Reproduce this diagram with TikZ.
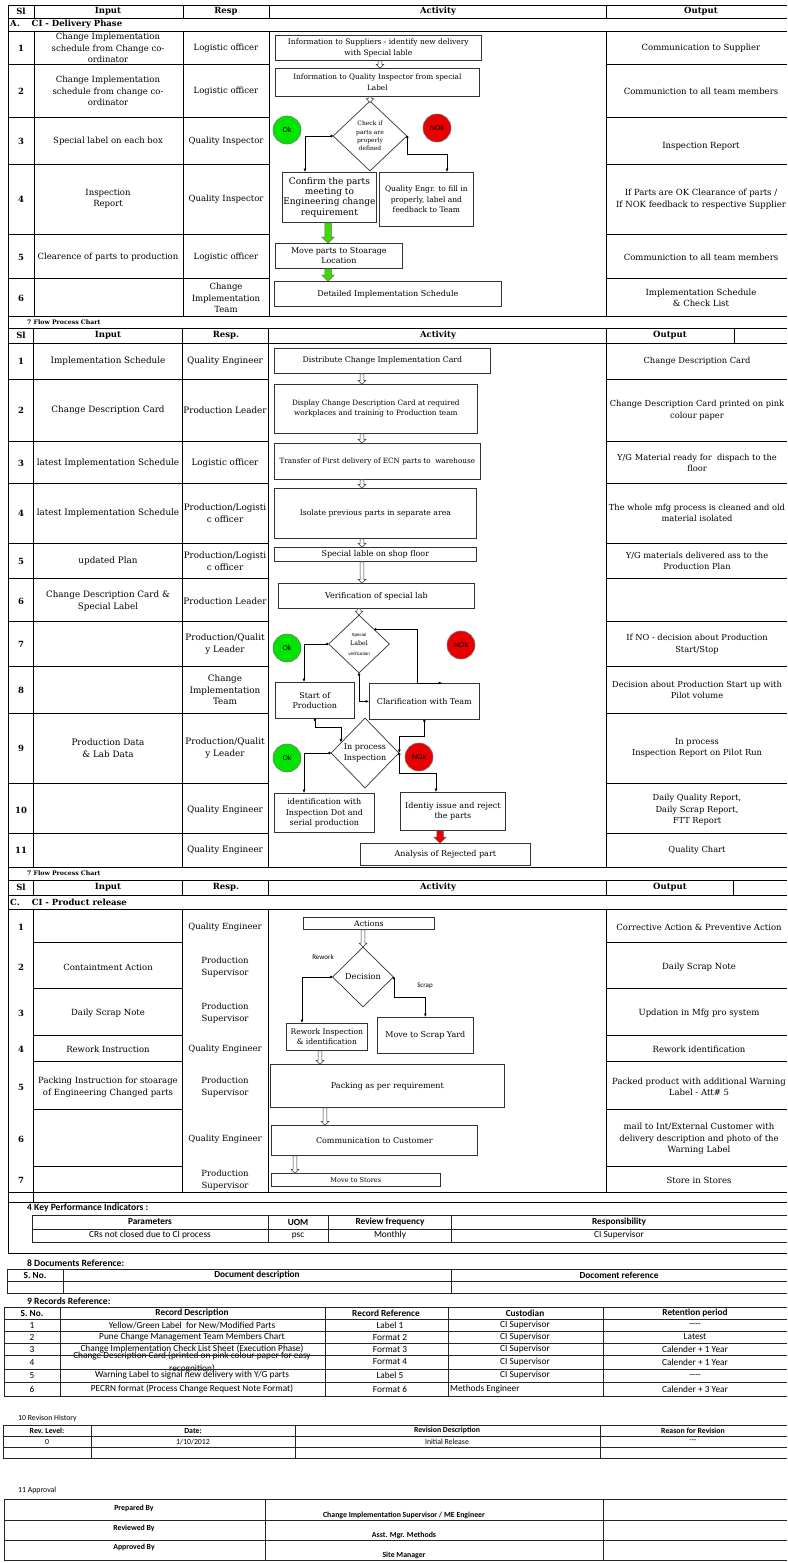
\documentclass[tikz,border=0pt]{standalone}
\usepackage{fontspec}
\setmainfont{DejaVu Serif}
\newfontfamily\calfont{Carlito}
\newfontfamily\arialfont{Liberation Sans}
\usetikzlibrary{shapes.geometric,shapes.arrows,arrows.meta,calc}

\definecolor{okgreen}{RGB}{0,228,0}
\definecolor{nokred}{RGB}{232,0,0}
\definecolor{arrgreen}{RGB}{60,220,0}

\newcommand{\fa}{\fontsize{8.5}{11.5}\selectfont}
\newcommand{\fb}{\fontsize{8.8}{11.5}\selectfont}
\newcommand{\fbout}{\fontsize{8.3}{11.5}\selectfont}
\newcommand{\actfont}{\fontsize{8}{10.2}\selectfont}
\newcommand{\calbig}{\calfont\fontsize{9.3}{10}\selectfont}
\newcommand{\calsm}{\calfont\fontsize{7.8}{9}\selectfont}

% block arrow between two boxes: style, from, to, x offset from left of 'from'
\newcommand{\blockarrow}[4]{%
  \path let \p1=([xshift=#4]#2.south west), \p2=(#3.north), \n1={\y1-\y2} in
    node[#1, minimum height=\n1, anchor=west] (#2-#3) at (\p1) {};}

\tikzset{
  rule/.style={line width=0.9pt},
  thinrule/.style={line width=0.7pt, black!85},
  cellA/.style={align=center, font=\fa, inner sep=0pt},
  cellB/.style={align=center, font=\fb, inner sep=0pt},
  head/.style={font=\fa\bfseries, inner sep=0pt},
  chart/.style={font=\fontsize{6.2}{7}\selectfont\bfseries, inner sep=0pt, anchor=west},
  actbox/.style={draw=black!80, line width=0.7pt, align=center, font=\actfont, inner sep=1pt, anchor=north west},
  fs/.style={font=\fontsize{#1}{10.2}\selectfont},
  decision/.style={diamond, draw=black!80, line width=0.7pt, inner sep=0pt},
  dtext/.style={align=center, inner sep=0pt},
  okball/.style={circle, draw=black!55, line width=0.6pt, fill=okgreen, minimum size=28pt, inner sep=0pt, font=\arialfont\fontsize{7}{8}\selectfont},
  nokball/.style={okball, fill=nokred},
  flow/.style={line width=0.6pt, {Circle[length=2.4pt]}-{Latex[length=3.5pt,width=3pt]}},
  hollow/.style={single arrow, draw=black!80, fill=white, line width=0.5pt, rotate=-90, inner sep=1.6pt, single arrow head extend=2pt},
  greenarr/.style={hollow, fill=arrgreen, draw=black!60, inner sep=3pt, single arrow head extend=3pt},
  redarr/.style={greenarr, fill=nokred},
  sidelbl/.style={font=\calfont\fontsize{7}{8}\selectfont, inner sep=0pt},
  rec/.style={font=\calbig, inner sep=0pt},
  rechead/.style={font=\calbig\bfseries, inner sep=0pt},
  reclbl/.style={font=\calfont\fontsize{9.6}{10}\selectfont\bfseries, inner sep=0pt, anchor=west},
  revcell/.style={font=\calsm, inner sep=0pt},
  revhead/.style={font=\calsm\bfseries, inner sep=0pt},
}

\begin{document}
\begin{tikzpicture}[x=1pt,y=-1pt]
\useasboundingbox (0,0) rectangle (787,1563);

% ===== A. CI - Delivery Phase : table =====
\foreach \y in {5,18,31,316} \draw[rule] (8,\y) -- (787,\y);
\foreach \y in {64,117,164,234,278} \draw[rule] (8,\y) -- (269,\y) (606,\y) -- (787,\y);
\foreach \x in {34,183,269,606} \draw[rule] (\x,5) -- (\x,18) (\x,31) -- (\x,316);
\draw[rule] (8,5) -- (8,1253);

\foreach \x/\t in {21/Sl,108/Input,226/Resp,438/Activity,701/Output}
  \node[head] (hA\t) at (\x,11.5) {\t};
\node[head, anchor=west] (secA) at (10,24.5) {A.\hspace{12pt}CI - Delivery Phase};

\foreach \n/\y/\inp/\resp/\outp in {
  1/48/{Change Implementation\\schedule from Change co-\\ordinator}/{Logistic officer}/{Communication to Supplier},
  2/91/{Change Implementation\\schedule from change co-\\ordinator}/{Logistic officer}/{Communiction to all team members},
  3/141/{Special label on each box}/{Quality Inspector}/{},
  4/199/{Inspection\\Report}/{Quality Inspector}/{If Parts are OK Clearance of parts /\\If NOK feedback to respective Supplier},
  5/257/{Clearence of parts to production}/{Logistic officer}/{Communiction to all team members},
  6/298/{}/{Change\\Implementation\\Team}/{Implementation Schedule\\\& Check List}}
{
  \node[head] (slA\n) at (21,\y) {\n};
  \node[cellA] (inA\n) at (108,\y) {\inp};
  \node[cellA] (rsA\n) at (226,\y) {\resp};
  \node[cellA] (outA\n) at (701,\y) {\outp};
}
\node[cellA] (outA3b) at (701,146) {Inspection Report};

% ===== A. activity flow =====
\node[actbox, fs=7.5, minimum width=206, minimum height=25] (supInfo) at (275,35) {Information to Suppliers - identify new delivery\\with Special lable};
\node[actbox, fs=7.3, minimum width=204, minimum height=28] (qiInfo) at (275,68) {Information to Quality Inspector from special\\Label};
\node[decision, minimum width=74, minimum height=70] (chkDec) at (370,136) {};
\node[dtext, font=\fontsize{6}{8.3}\selectfont] (chkTxt) at (chkDec) {Check if\\parts are\\properly\\defined};
\node[okball] (okA) at (287,130) {Ok};
\node[nokball] (nokA) at (437,128) {NOk};
\node[actbox, font=\fontsize{9}{10.3}\selectfont, minimum width=83, minimum height=50] (confirm) at (282,172) {Confirm the parts\\meeting to\\Engineering change\\requirement};
\node[actbox, fs=7.5, minimum width=94, minimum height=54] (qeFill) at (379,172) {Quality Engr. to fill in\\properly, label and\\feedback to Team};
\node[actbox, minimum width=127, minimum height=25] (moveStore) at (275,243) {Move parts to Stoarage\\Location};
\node[actbox, minimum width=227, minimum height=25] (detSched) at (274,281) {Detailed Implementation Schedule};

\blockarrow{hollow}{supInfo}{qiInfo}{105pt}
\blockarrow{hollow}{qiInfo}{chkDec}{95pt}
\blockarrow{greenarr}{confirm}{moveStore}{46pt}
\blockarrow{greenarr}{moveStore}{detSched}{53pt}
\draw[flow] (chkDec.west) -| ([xshift=23pt]confirm.north west);
\draw[flow] (chkDec.east) -- ++(0,18) -| ([xshift=68pt]qeFill.north west);

% ===== B. flow process chart : table =====
\node[chart] (secB) at (27,322) {7 Flow Process Chart};
\foreach \y in {328,343,867} \draw[rule] (8,\y) -- (787,\y);
\foreach \y in {379,441,483,543,578,621,666,713,783,833} \draw[rule] (8,\y) -- (268,\y) (606,\y) -- (787,\y);
\foreach \x in {33,182,268,606} \draw[rule] (\x,328) -- (\x,867);
\draw[rule] (734,328) -- (734,343);

\foreach \x/\t in {21/Sl,108/Input,226/Resp.,438/Activity,670/Output}
  \node[head] (hB\x) at (\x,335.5) {\t};

\foreach \n/\y/\inp/\resp/\outp in {
  1/361/{Implementation Schedule}/{Quality Engineer}/{Change Description Card},
  2/410/{Change Description Card}/{Production Leader}/{Change Description Card printed on pink\\colour paper},
  3/463/{latest Implementation Schedule}/{Logistic officer}/{Y/G Material ready for~ dispach to the\\floor},
  4/513/{latest Implementation Schedule}/{Production/Logisti\\c officer}/{The whole mfg process is cleaned and old\\material isolated},
  5/561/{updated Plan}/{Production/Logisti\\c officer}/{Y/G materials delivered ass to the\\Production Plan},
  6/601/{Change Description Card \&\\Special Label}/{Production Leader}/{},
  7/644/{}/{Production/Qualit\\y Leader}/{If NO - decision about Production\\Start/Stop},
  8/690/{}/{Change\\Implementation\\Team}/{Decision about Production Start up with\\Pilot volume},
  9/748/{Production Data\\\& Lab Data}/{Production/Qualit\\y Leader}/{In process\\Inspection Report on Pilot Run},
  10/810/{}/{Quality Engineer}/{Daily Quality Report,\\Daily Scrap Report,\\FTT Report},
  11/850/{}/{Quality Engineer}/{Quality Chart}}
{
  \node[head] (slB\n) at (21,\y) {\n};
  \node[cellB] (inB\n) at (108,\y) {\inp};
  \node[cellB] (rsB\n) at (225,\y) {\resp};
  \node[cellB, font=\fbout] (outB\n) at (697,\y) {\outp};
}

% ===== B. activity flow =====
\node[actbox, fs=7.8, minimum width=216, minimum height=25] (distCard) at (274,348) {Distribute Change Implementation Card};
\node[actbox, fs=7.3, minimum width=203, minimum height=49] (dispCard) at (274,384) {Display Change Description Card at required\\workplaces and training to Production team};
\node[actbox, fs=7.2, minimum width=206, minimum height=36] (transfer) at (274,443) {Transfer of First delivery of ECN parts to~ warehouse};
\node[actbox, fs=7.7, minimum width=202, minimum height=50] (isolate) at (274,488) {Isolate previous parts in separate area};
\node[actbox, minimum width=202, minimum height=14] (lableFloor) at (274,547) {Special lable on shop floor};
\node[actbox, minimum width=196, minimum height=25] (verify) at (278,583) {Verification of special lab};
\node[decision, minimum width=61, minimum height=58] (labDec) at (359,644) {};
\node[dtext, font=\fontsize{6.3}{9.5}\selectfont] (labTxt) at (labDec) {{\arialfont\fontsize{4.5}{6}\selectfont Special}\\Label\\{\arialfont\fontsize{4.5}{6}\selectfont verification}};
\node[okball] (okB1) at (287,648) {Ok};
\node[nokball] (nokB1) at (461,645) {NOk};
\node[actbox, minimum width=79, minimum height=36] (startProd) at (275,682) {Start of\\Production};
\node[actbox, minimum width=110, minimum height=36] (clarify) at (369,683) {Clarification with Team};
\node[decision, minimum width=68, minimum height=70] (inspDec) at (365,753) {};
\node[dtext, font=\actfont] (inspTxt) at (inspDec) {In process\\Inspection};
\node[okball] (okB2) at (287,758) {Ok};
\node[nokball] (nokB2) at (419,757) {NOk};
\node[actbox, minimum width=100, minimum height=39] (identDot) at (274,793) {identification with\\Inspection Dot and\\serial production};
\node[actbox, minimum width=105, minimum height=38] (rejParts) at (400,792) {Identiy issue and reject\\the parts};
\node[actbox, minimum width=170, minimum height=22] (analysis) at (360,843) {Analysis of Rejected part};

\blockarrow{hollow}{distCard}{dispCard}{88pt}
\blockarrow{hollow}{dispCard}{transfer}{88pt}
\blockarrow{hollow}{transfer}{isolate}{88pt}
\blockarrow{hollow}{isolate}{lableFloor}{88pt}
\blockarrow{hollow}{lableFloor}{verify}{88pt}
\blockarrow{hollow}{verify}{labDec}{81pt}
\blockarrow{redarr}{rejParts}{analysis}{40pt}
\draw[flow] (labDec.west) -| ([xshift=29pt]startProd.north west);
\draw[flow] (labDec.south) |- (clarify.west);
\draw[flow] (labDec.north east) -| ([xshift=48pt]clarify.north west) -- ++(25,0);
\draw[flow] (startProd.south) -- ++(0,9) -| ($(inspDec.west)!0.3!(inspDec.north)$);
\draw[flow] (inspDec.west) -| ([xshift=30pt]identDot.north west);
\draw[flow] (clarify.south) -- ++(0,17) -| (inspDec.east);
\draw[flow] (inspDec.east) -- ++(0,20) -| ([xshift=36pt]rejParts.north west);

% ===== C. CI - Product release : table =====
\node[chart] (secC0) at (27,873) {7 Flow Process Chart};
\foreach \y in {880,895,909,1192,1202,1253} \draw[rule] (8,\y) -- (787,\y);
\foreach \y in {942,988,1035,1061,1109,1166} \draw[rule] (33,\y) -- (182,\y) (606,\y) -- (787,\y);
\foreach \x in {33,182,268,606} \draw[rule] (\x,880) -- (\x,895) (\x,909) -- (\x,1192);
\draw[rule] (733,880) -- (733,895);
\draw[rule] (33,1192) -- (33,1202);

\foreach \x/\t in {21/Sl,108/Input,226/Resp.,438/Activity,670/Output}
  \node[head] (hC\x) at (\x,887.5) {\t};
\node[head, anchor=west] (secC) at (10,902) {C.\hspace{12pt}CI - Product release};

\foreach \n/\y/\inp/\resp/\outp in {
  1/927/{}/{Quality Engineer}/{Corrective Action \& Preventive Action},
  2/967/{Containtment Action}/{Production\\Supervisor}/{Daily Scrap Note},
  3/1013/{Daily Scrap Note}/{Production\\Supervisor}/{Updation in Mfg pro system},
  4/1049/{Rework Instruction}/{Quality Engineer}/{Rework identification},
  5/1087/{Packing Instruction for stoarage\\of Engineering Changed parts}/{Production\\Supervisor}/{Packed product with additional Warning\\Label - Att\# 5},
  6/1139/{}/{Quality Engineer}/{mail to Int/External Customer with\\delivery description and photo of the\\Warning Label},
  7/1180/{}/{Production\\Supervisor}/{Store in Stores}}
{
  \node[head] (slC\n) at (21,\y) {\n};
  \node[cellA] (inC\n) at (108,\y) {\inp};
  \node[cellA] (rsC\n) at (225,\y) {\resp};
  \node[cellA] (outC\n) at (699,\y) {\outp};
}

% ===== C. activity flow =====
\node[actbox, fs=7.8, minimum width=131, minimum height=12] (actions) at (303,917) {Actions};
\node[decision, minimum width=61, minimum height=60] (decC) at (363,977) {};
\node[dtext, font=\fontsize{8.2}{9}\selectfont] (decTxt) at (decC) {Decision};
\node[sidelbl] (reworkLbl) at (323,957) {Rework};
\node[sidelbl] (scrapLbl) at (425,986) {Scrap};
\node[actbox, fs=7.6, minimum width=81, minimum height=27] (rework) at (286,1023) {Rework Inspection\\\& identification};
\node[actbox, minimum width=96, minimum height=36] (scrapYard) at (377,1017) {Move to Scrap Yard};
\node[actbox, minimum width=234, minimum height=43] (packing) at (270,1064) {Packing as per requirement};
\node[actbox, minimum width=206, minimum height=30] (commCust) at (271,1125) {Communication to Customer};
\node[actbox, fs=6.6, minimum width=169, minimum height=13] (moveStores) at (271,1173) {Move to Stores};

\blockarrow{hollow}{actions}{decC}{60pt}
\blockarrow{hollow}{rework}{packing}{34pt}
\blockarrow{hollow}{packing}{commCust}{55pt}
\blockarrow{hollow}{commCust}{moveStores}{24pt}
\draw[flow] (decC.west) -| ([xshift=16pt]rework.north west);
\draw[flow] (decC.east) -- ++(0,20) -| (scrapYard.north);

% ===== 4 KPI =====
\node[reclbl] (kpiLbl) at (27,1208) {4 Key Performance Indicators :};
\foreach \y in {1215,1229,1242} \draw[thinrule] (32,\y) -- (787,\y);
\foreach \x in {32,268,328,451} \draw[thinrule] (\x,1215) -- (\x,1242);
\foreach \x/\t [count=\i] in {150/Parameters,298/UOM,390/Review frequency,619/Responsibility}
  \node[rechead] (kpiH\i) at (\x,1222) {\t};
\foreach \x/\t [count=\i] in {150/CRs not closed due to CI process,298/psc,390/Monthly,619/CI Supervisor}
  \node[rec] (kpiR\i) at (\x,1235.5) {\t};

% ===== 8 documents =====
\node[reclbl] (docLbl) at (27,1263) {8 Documents Reference:};
\foreach \y in {1269,1281,1293} \draw[thinrule] (7,\y) -- (787,\y);
\foreach \x in {7,63,451} \draw[thinrule] (\x,1269) -- (\x,1293);
\foreach \x/\t [count=\i] in {35/S. No.,257/Document description,619/Docoment reference}
  \node[rechead] (docH\i) at (\x,1275) {\t};

% ===== 9 records =====
\node[reclbl] (recLbl) at (27,1301) {9 Records Reference:};
\foreach \x/\t [count=\i] in {32/S. No.,192/Record Description,386/Record Reference,525/Custodian,695/Retention period}
  \node[rechead] (recH\i) at (\x,1313) {\t};
\foreach \n/\y/\d/\r/\c/\p in {
  1/1325/{Yellow/Green Label~ for New/Modified Parts}/{Label 1}/{CI Supervisor}/{-{}-{}-{}-},
  2/1337/{Pune Change Management Team Members Chart}/{Format 2}/{CI Supervisor}/{Latest},
  3/1349/{Change Implementation Check List Sheet (Execution Phase)}/{Format 3}/{CI Supervisor}/{Calender + 1 Year},
  4/1362/{Change Description Card (printed on pink colour paper for easy\\[3pt]recognition)}/{Format 4}/{CI Supervisor}/{Calender + 1 Year},
  5/1375.5/{Warning Label to signal new delivery with Y/G parts}/{Label 5}/{CI Supervisor}/{-{}-{}-{}-},
  6/1389/{PECRN format (Process Change Request Note Format)}/{Format 6}/{}/{Calender + 3 Year}}
{
  \node[rec] (recN\n) at (32,\y) {\n};
  \node[rec, align=center] (recD\n) at (192,\y) {\d};
  \node[rec] (recR\n) at (390,\y) {\r};
  \node[rec] (recC\n) at (525,\y) {\c};
  \node[rec] (recP\n) at (695,\y) {\p};
}
\node[rec, anchor=west] (recC6b) at (450,1389) {Methods Engineer};
\foreach \y in {1307,1319,1331,1343,1355,1369,1382,1396} \draw[thinrule] (4,\y) -- (787,\y);
\foreach \x in {4,60,325,448,603} \draw[thinrule] (\x,1307) -- (\x,1396);

% ===== 10 revision =====
\node[revcell, anchor=west] (revLbl) at (18,1418) {10 Revison History};
\foreach \y in {1425,1436,1447,1458} \draw[thinrule] (3,\y) -- (787,\y);
\foreach \x in {3,91,295,600} \draw[thinrule] (\x,1425) -- (\x,1458);
\foreach \x/\t [count=\i] in {47/Rev. Level:,193/Date:,447/Revision Description,693/Reason for Revision}
  \node[revhead] (revH\i) at (\x,1430.5) {\t};
\foreach \x/\t [count=\i] in {47/0,193/{1/10/2012},447/Initial Release,693/-{}-{}-}
  \node[revcell] (revR\i) at (\x,1441.5) {\t};

% ===== 11 approval =====
\node[revcell, anchor=west] (appLbl) at (18,1490) {11 Approval};
\foreach \y in {1499,1520,1540,1560} \draw[thinrule] (4,\y) -- (787,\y);
\foreach \x in {4,265,603} \draw[thinrule] (\x,1499) -- (\x,1560);
\node[revhead] (prepBy) at (134,1508) {Prepared By};
\node[revhead] (prepNm) at (404,1515) {Change Implementation Supervisor / ME Engineer};
\node[revhead] (revBy) at (134,1528) {Reviewed By};
\node[revhead] (revNm) at (404,1535) {Asst. Mgr. Methods};
\node[revhead] (appBy) at (134,1547) {Approved By};
\node[revhead] (appNm) at (404,1555) {Site Manager};
\end{tikzpicture}
\end{document}
